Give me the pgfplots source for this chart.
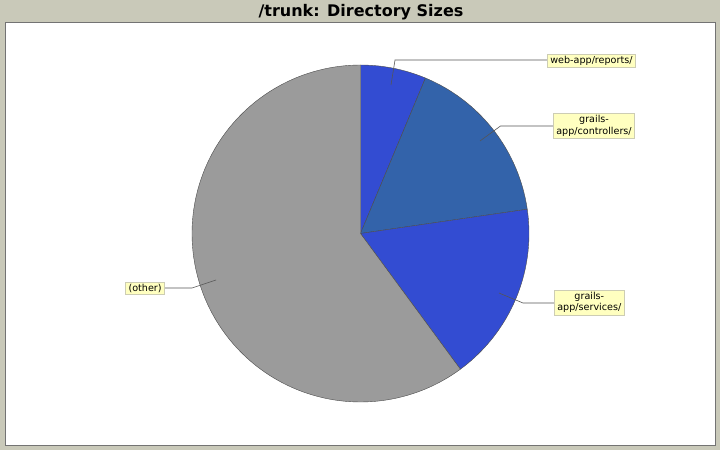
\documentclass[border=0pt]{standalone}
\usepackage{pgfplots}
\usepackage{pgfplotstable}
\usepackage{fontspec}
\setmainfont{DejaVu Sans}
\pgfplotsset{compat=1.18}
\definecolor{bgframe}{RGB}{201,201,185}
\definecolor{sliceA}{RGB}{51,76,210}
\definecolor{sliceB}{RGB}{51,99,170}
\definecolor{sliceC}{RGB}{51,76,210}
\definecolor{sliceD}{RGB}{155,155,155}
\definecolor{lblfill}{RGB}{255,255,192}
\definecolor{lbldraw}{RGB}{205,205,180}
\definecolor{leader}{RGB}{85,85,85}

% slice sizes (percent of total), clockwise from 12 o'clock
\pgfplotstableread{
name value
reports 6.3
controllers 16.4
services 17.2
other 60.1
}\piedata

\begin{document}
\begin{tikzpicture}[x=1pt,y=1pt]
\fill[bgframe] (0,0) rectangle (720,450);
\fill[white] (5.5,4.5) rectangle (715.5,427.5);
\draw[gray!90!black, line width=1pt] (5.5,4.5) rectangle (715.5,427.5);
\node[font=\bfseries\fontsize{16}{18}\selectfont] at (361,437.5) {/trunk: Directory Sizes};

\pgfplotstablegetelem{0}{value}\of\piedata \let\va\pgfplotsretval
\pgfplotstablegetelem{1}{value}\of\piedata \let\vb\pgfplotsretval
\pgfplotstablegetelem{2}{value}\of\piedata \let\vc\pgfplotsretval
\pgfplotstablegetelem{3}{value}\of\piedata \let\vd\pgfplotsretval
\pgfmathsetmacro\aA{90}
\pgfmathsetmacro\aB{\aA-3.6*\va}
\pgfmathsetmacro\aC{\aB-3.6*\vb}
\pgfmathsetmacro\aD{\aC-3.6*\vc}
\pgfmathsetmacro\aE{\aD-3.6*\vd}

\begin{axis}[
  at={(0,0)}, anchor=south west,
  x=1pt, y=1pt, scale only axis,
  xmin=-360.5, xmax=359.5, ymin=-216.5, ymax=233.5,
  hide axis, clip=false,
  data cs=polar,
]
\addplot[fill=sliceA, draw=black!70, line width=0.4pt, domain=\aB:\aA, samples=20] ({x},{168.5}) -- (axis cs:0,0) -- cycle;
\addplot[fill=sliceB, draw=black!70, line width=0.4pt, domain=\aC:\aB, samples=40] ({x},{168.5}) -- (axis cs:0,0) -- cycle;
\addplot[fill=sliceC, draw=black!70, line width=0.4pt, domain=\aD:\aC, samples=40] ({x},{168.5}) -- (axis cs:0,0) -- cycle;
\addplot[fill=sliceD, draw=black!70, line width=0.4pt, domain=\aE:\aD, samples=120] ({x},{168.5}) -- (axis cs:0,0) -- cycle;
\end{axis}

% leader lines (pixel coords, y flipped)
\draw[leader, line width=0.6pt] (391,450-85) -- (395,450-60) -- (547,450-60);
\draw[leader, line width=0.6pt] (480,450-141) -- (500.5,450-126) -- (553,450-126);
\draw[leader, line width=0.6pt] (499,450-293) -- (523,450-303) -- (554,450-303);
\draw[leader, line width=0.6pt] (216,450-280) -- (192,450-288) -- (165,450-288);

\tikzset{lbl/.style={fill=lblfill, draw=lbldraw, line width=0.7pt, font=\fontsize{9.6}{11.5}\selectfont, inner xsep=3pt, inner ysep=2pt, align=center}}
\node[lbl, anchor=west] at (547,450-60.5) {web-app/reports/};
\node[lbl, anchor=west] at (553,450-126) {grails-\\app/controllers/};
\node[lbl, anchor=west] at (554,450-302.5) {grails-\\app/services/};
\node[lbl, anchor=east] at (165,450-288.5) {(other)};
\end{tikzpicture}
\end{document}
